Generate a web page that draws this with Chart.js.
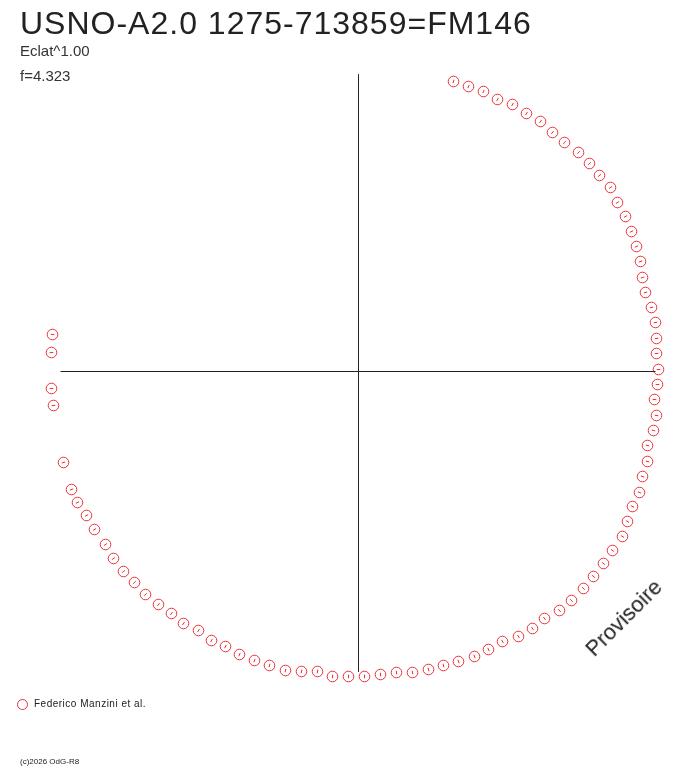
<!DOCTYPE html>
<html>
<head>
<meta charset="utf-8">
<title>USNO-A2.0 1275-713859=FM146</title>
<script src="https://cdn.jsdelivr.net/npm/chart.js@4/dist/chart.umd.min.js"></script>
<style>
    body { margin: 0; background: #fff; font-family: "Liberation Sans", Arial, sans-serif; color: #222; }
    #wrap { position: relative; width: 688px; height: 768px; overflow: hidden; }
    #chart { position: absolute; left: 0; top: 0; }
    .txt { position: absolute; white-space: nowrap; line-height: 1; }
    #title { left: 20px; top: 7px; font-size: 32px; letter-spacing: 1px; }
    #sub1 { left: 20px; top: 43px; font-size: 15px; color: #333; }
    #sub2 { left: 20px; top: 68px; font-size: 15px; color: #333; }
    #stamp { left: 575px; top: 607px; font-size: 22px; transform: rotate(-45deg); transform-origin: 50% 50%; }
    #legend { left: 17px; top: 699px; font-size: 10px; letter-spacing: 0.5px; }
    #legend .mark { display: inline-block; width: 9px; height: 9px; border: 1px solid rgb(232,48,56); border-radius: 50%; vertical-align: middle; margin-right: 6px; }
    #copy { left: 20px; top: 758px; font-size: 8px; }
</style>
</head>
<body>
<div id="wrap">
    <canvas id="chart" width="688" height="768"></canvas>
    <div class="txt" id="title">USNO-A2.0 1275-713859=FM146</div>
    <div class="txt" id="sub1">Eclat^1.00</div>
    <div class="txt" id="sub2">f=4.323</div>
    <div class="txt" id="stamp">Provisoire</div>
    <div class="txt" id="legend"><span class="mark"></span>Federico Manzini et al.</div>
    <div class="txt" id="copy">(c)2026 OdG-R8</div>
</div>
<script>
'use strict';

// chord end points, offsets from the centre (x east, y north)
const xs = [
    95, 110, 125, 139, 154, 168, 182, 194, 206, 220,
    231, 241, 252, 259, 267, 273, 278, 282, 284, 287,
    293, 297, 298, 298, 300, 299, 296, 298, 295, 289,
    289, 284, 281, 274, 269, 264, 254, 245, 235, 225,
    213, 201, 186, 174, 160, 144, 130, 116, 100, 85,
    70, 54, 38, 22, 6, -10, -26, -41, -57, -73,
    -89, -104, -119, -133, -147, -160, -175, -187, -200, -213,
    -224, -235, -245, -253, -264, -272, -281, -287, -295, -305,
    -307, -307, -306
];
const ys = [
    290, 285, 280, 272, 267, 258, 250, 239, 229, 219,
    208, 196, 184, 169, 155, 140, 125, 110, 94, 79,
    64, 49, 33, 18, 2, -13, -28, -44, -59, -74,
    -90, -105, -121, -135, -150, -165, -179, -192, -205, -217,
    -229, -239, -247, -257, -265, -270, -278, -285, -290, -294,
    -298, -301, -301, -303, -305, -305, -305, -300, -300, -299,
    -294, -289, -283, -275, -269, -259, -252, -242, -233, -223,
    -211, -200, -187, -173, -158, -144, -131, -118, -91, -34,
    -17, 19, 37
];

// cross hair
const axisX = [-298, 297];
const axisY = [297, -300];

// visible window (half pixel so the cross hair stays crisp)
const xRange = [-358.5, 329.5];
const yRange = [-396.5, 371.5];

const red = 'rgb(232,48,56)';

(function(){

    let points = xs.map((x, i) => ({x: x, y: ys[i]}));

    function radial(ctx) {
        let p = ctx.raw;
        if(!p) return 0;
        return Math.atan2(-p.y, p.x) * 180 / Math.PI;
    }

    let ctx = document.getElementById('chart').getContext('2d');
    new Chart(ctx, {
        type: 'scatter',
        data: {
            datasets: [
                {
                    data: axisX.map(v => ({x: v, y: 0})),
                    showLine: true,
                    borderColor: '#222',
                    borderWidth: 1,
                    pointRadius: 0,
                },
                {
                    data: axisY.map(v => ({x: 0, y: v})),
                    showLine: true,
                    borderColor: '#222',
                    borderWidth: 1,
                    pointRadius: 0,
                },
                {
                    data: points,
                    pointStyle: 'circle',
                    pointRadius: 5.3,
                    borderWidth: 1,
                    borderColor: red,
                    backgroundColor: 'rgba(0,0,0,0)',
                },
                {
                    data: points,
                    pointStyle: 'line',
                    pointRadius: 1.8,
                    borderWidth: 1,
                    borderColor: red,
                    rotation: radial,
                },
            ]
        },
        options: {
            responsive: false,
            animation: false,
            events: [],
            layout: { padding: 0, autoPadding: false },
            plugins: {
                legend: { display: false },
                tooltip: { enabled: false },
            },
            scales: {
                x: { type: 'linear', min: xRange[0], max: xRange[1], display: false },
                y: { type: 'linear', min: yRange[0], max: yRange[1], display: false },
            }
        }
    });
})();
</script>
</body>
</html>
